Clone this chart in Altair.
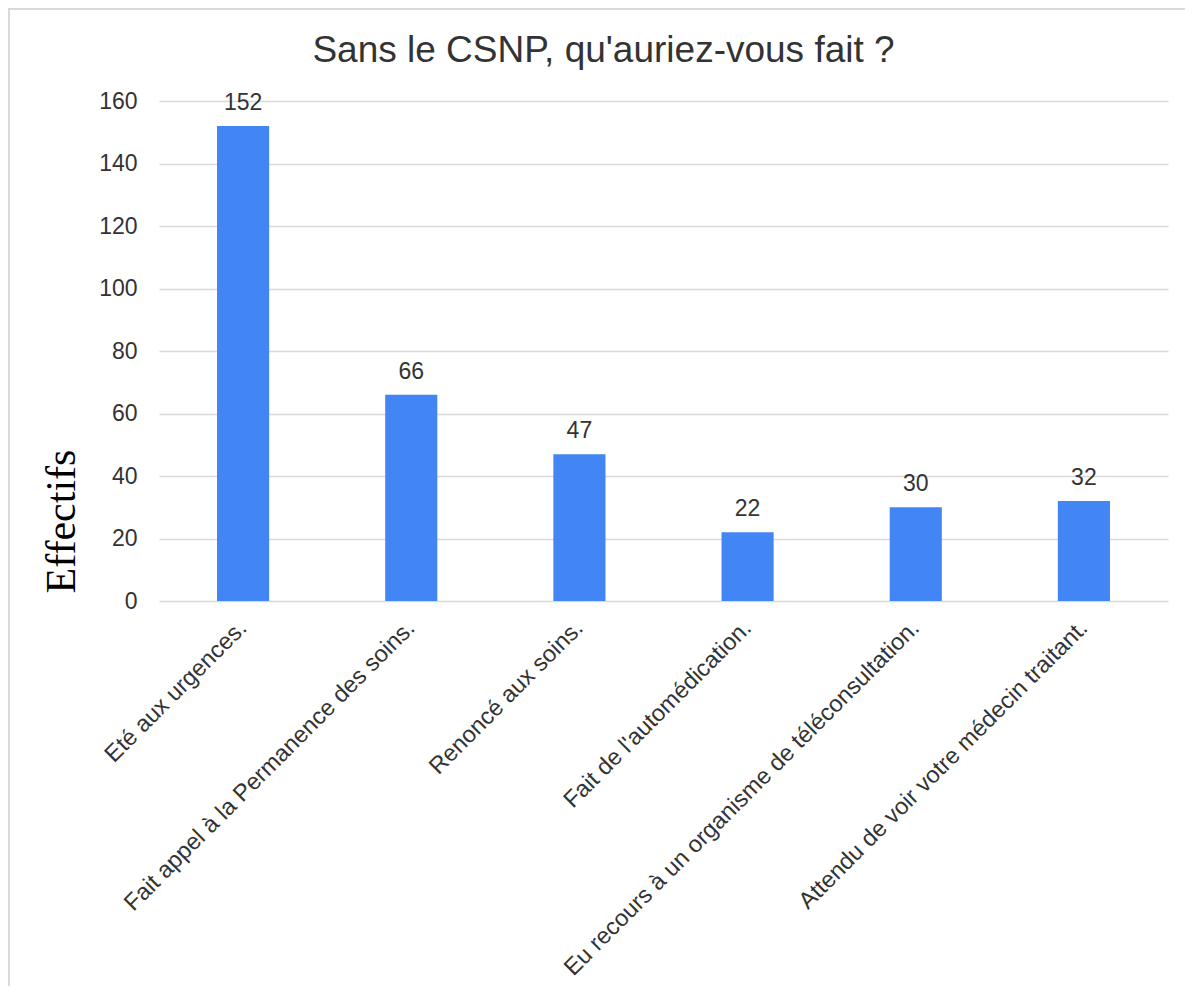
import altair as alt
import pandas as pd

categories = [
    "Eté aux urgences.",
    "Fait appel à la Permanence des soins.",
    "Renoncé aux soins.",
    "Fait de l'automédication.",
    "Eu recours à un organisme de téléconsultation.",
    "Attendu de voir votre médecin traitant.",
]
values = [152, 66, 47, 22, 30, 32]
y_ticks = [0, 20, 40, 60, 80, 100, 120, 140, 160]

df = pd.DataFrame({"cat": categories, "val": values})

FONT = "Liberation Sans"
TXT = "#333333"

x_enc = alt.X(
    "cat:N",
    sort=categories,
    title=None,
    scale=alt.Scale(paddingInner=0.69, paddingOuter=0.345),
    axis=alt.Axis(
        labelAngle=-45,
        labelAlign="right",
        labelBaseline="middle",
        labelPadding=23,
        labelFontSize=23.5,
        labelFont=FONT,
        labelColor=TXT,
        labelLimit=0,
        ticks=False,
        domain=False,
        grid=False,
    ),
)
y_enc = alt.Y(
    "val:Q",
    scale=alt.Scale(domain=[0, 160], nice=False),
    axis=alt.Axis(
        values=y_ticks,
        title="Effectifs",
        titleFont="Liberation Serif",
        titleFontSize=42,
        titleFontWeight="normal",
        titleColor="#000000",
        titleAngle=-90,
        titleX=-98,
        titleY=420,
        titleAlign="center",
        titleBaseline="middle",
        labelFontSize=23,
        labelFont=FONT,
        labelColor=TXT,
        labelPadding=22,
        ticks=False,
        domain=False,
        grid=True,
        gridColor="#d9d9d9",
        gridWidth=1.5,
    ),
)

base = alt.Chart(df)
bars = base.mark_bar(color="#4285F4").encode(x=x_enc, y=y_enc)
labels = base.mark_text(
    font=FONT, fontSize=23, color=TXT, baseline="alphabetic", dy=-16
).encode(x=alt.X("cat:N", sort=categories), y="val:Q", text="val:Q")

frame = alt.Chart(pd.DataFrame({"f": [0]})).mark_rect(
    fillOpacity=0, stroke="#d9d9d9", strokeWidth=2
).encode(
    x=alt.value(-150),
    x2=alt.value(1200),
    y=alt.value(-92),
    y2=alt.value(1000),
)

chart = alt.layer(frame, bars, labels).properties(
    width=1009,
    height=500,
    title=alt.TitleParams(
        "Sans le CSNP, qu'auriez-vous fait ?",
        font=FONT,
        fontSize=37,
        fontWeight="normal",
        color=TXT,
        anchor="middle",
        frame="group",
        dx=-60,
        offset=41,
        dy=132,
        baseline="alphabetic",
    ),
    autosize=alt.AutoSizeParams(type="none"),
    padding={"left": 151, "top": 93, "right": 17, "bottom": 385},
).configure(background="white").configure_view(stroke=None)

chart.save("out.html", embed_options={"renderer": "svg", "actions": False})
